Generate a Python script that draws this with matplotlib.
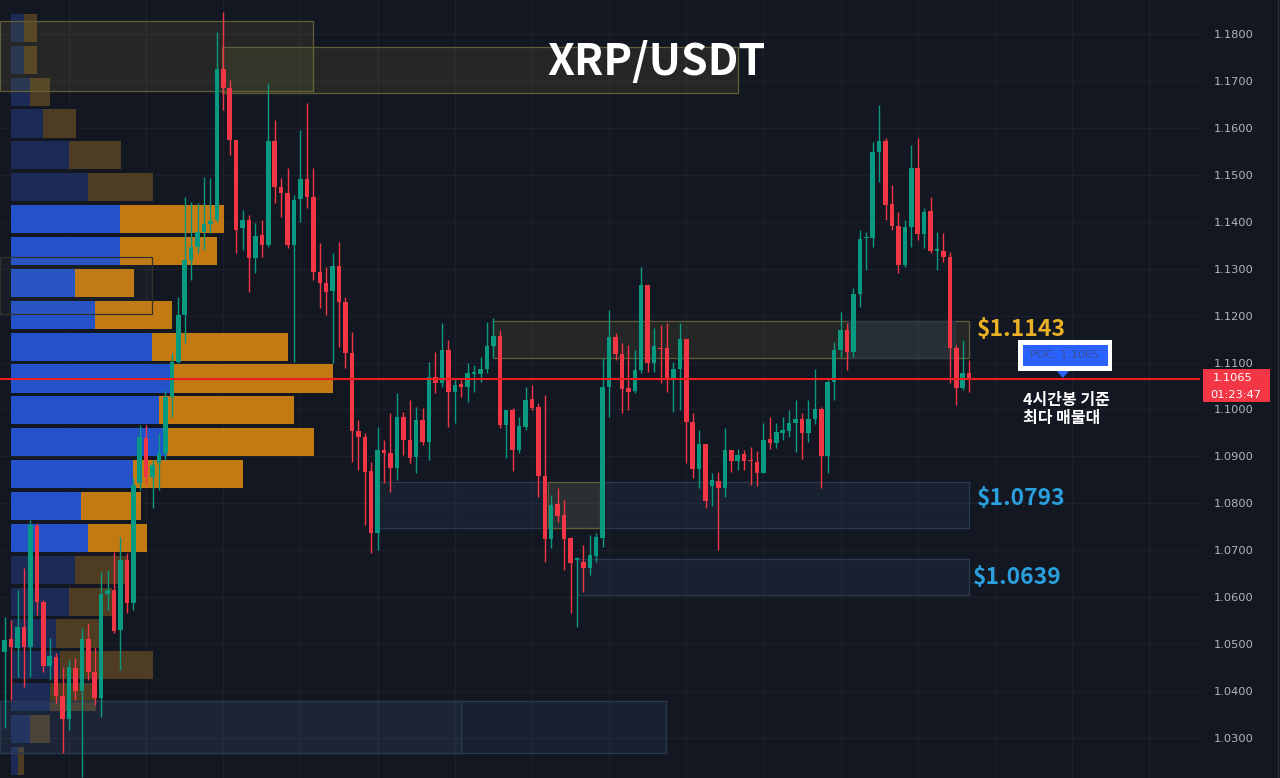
import matplotlib.pyplot as plt
import numpy as np
from matplotlib.patches import Rectangle, Polygon
from matplotlib.lines import Line2D
from matplotlib.ticker import FormatStrFormatter
from matplotlib.transforms import blended_transform_factory

BG = '#131722'
UP = '#089981'
DOWN = '#f23645'

# XRP/USDT 4h candles
opens = [1.0484, 1.0511, 1.0492, 1.0537, 1.0494, 1.0752, 1.0590, 1.0454, 1.0473, 1.0390,
         1.0341, 1.0450, 1.0401, 1.0511, 1.0441, 1.0386, 1.0607, 1.0616, 1.0531, 1.0680,
         1.0588, 1.0844, 1.0939, 1.0856, 1.0886, 1.0908, 1.1027, 1.1101, 1.1201, 1.1319,
         1.1346, 1.1378, 1.1395, 1.1404, 1.1725, 1.1685, 1.1574, 1.1387, 1.1404, 1.1323,
         1.1372, 1.1351, 1.1572, 1.1474, 1.1461, 1.1351, 1.1449, 1.1491, 1.1453, 1.1293,
         1.1270, 1.1253, 1.1306, 1.1229, 1.1121, 1.0954, 1.0942, 1.0869, 1.0737, 1.0914,
         1.0908, 1.0876, 1.0984, 1.0935, 1.0899, 1.0978, 1.0931, 1.1069, 1.1057, 1.1127,
         1.1037, 1.1054, 1.1048, 1.1076, 1.1076, 1.1086, 1.1135, 1.1157, 1.0967, 1.0999,
         1.0914, 1.0963, 1.1023, 1.1006, 1.0859, 1.0724, 1.0799, 1.0775, 1.0726, 1.0680,
         1.0675, 1.0663, 1.0688, 1.0726, 1.1048, 1.1155, 1.1118, 1.1046, 1.1040, 1.1084,
         1.1265, 1.1099, 1.1131, 1.1131, 1.1063, 1.1086, 1.1150, 1.0974, 1.0873, 1.0927,
         1.0837, 1.0848, 1.0833, 1.0914, 1.0890, 1.0905, 1.0893, 1.0888, 1.0865, 1.0937,
         1.0929, 1.0950, 1.0954, 1.0971, 1.0980, 1.0950, 1.0980, 1.1001, 1.0901, 1.1059,
         1.1127, 1.1170, 1.1123, 1.1246, 1.1365, 1.1365, 1.1549, 1.1572, 1.1438, 1.1391,
         1.1308, 1.1389, 1.1515, 1.1374, 1.1423, 1.1338, 1.1338, 1.1325, 1.1131, 1.1046,
         1.1078]
highs = [1.0558, 1.0552, 1.0616, 1.0663, 1.0765, 1.0758, 1.0594, 1.0513, 1.0482, 1.0452,
         1.0467, 1.0471, 1.0535, 1.0545, 1.0494, 1.0654, 1.0658, 1.0697, 1.0729, 1.0695,
         1.0854, 1.0967, 1.0967, 1.0893, 1.0950, 1.1042, 1.1121, 1.1240, 1.1453, 1.1442,
         1.1440, 1.1495, 1.1493, 1.1804, 1.1847, 1.1702, 1.1574, 1.1425, 1.1414, 1.1397,
         1.1404, 1.1696, 1.1617, 1.1493, 1.1515, 1.1457, 1.1596, 1.1653, 1.1515, 1.1355,
         1.1304, 1.1334, 1.1357, 1.1240, 1.1165, 1.0978, 1.0950, 1.0888, 1.0963, 1.0935,
         1.0993, 1.1035, 1.0995, 1.1020, 1.1006, 1.1003, 1.1101, 1.1123, 1.1184, 1.1148,
         1.1067, 1.1063, 1.1099, 1.1095, 1.1112, 1.1187, 1.1195, 1.1170, 1.0999, 1.1003,
         1.0984, 1.1048, 1.1052, 1.1014, 1.1031, 1.0818, 1.0833, 1.0807, 1.0729, 1.0686,
         1.0712, 1.0733, 1.0737, 1.1110, 1.1212, 1.1163, 1.1142, 1.1138, 1.1127, 1.1304,
         1.1265, 1.1174, 1.1180, 1.1184, 1.1101, 1.1184, 1.1150, 1.0993, 1.0957, 1.0927,
         1.0865, 1.0867, 1.0961, 1.0914, 1.0916, 1.0914, 1.0920, 1.0912, 1.0971, 1.0984,
         1.0971, 1.0984, 1.0999, 1.1020, 1.0993, 1.1020, 1.1086, 1.1006, 1.1063, 1.1144,
         1.1208, 1.1184, 1.1259, 1.1383, 1.1378, 1.1570, 1.1649, 1.1578, 1.1478, 1.1421,
         1.1404, 1.1564, 1.1578, 1.1429, 1.1453, 1.1378, 1.1376, 1.1336, 1.1138, 1.1148,
         1.1106]
lows = [1.0322, 1.0381, 1.0430, 1.0409, 1.0430, 1.0562, 1.0441, 1.0424, 1.0375, 1.0269,
        1.0318, 1.0381, 1.0217, 1.0424, 1.0371, 1.0345, 1.0573, 1.0524, 1.0445, 1.0567,
        1.0573, 1.0829, 1.0839, 1.0790, 1.0829, 1.0893, 1.0984, 1.1099, 1.1142, 1.1276,
        1.1334, 1.1340, 1.1376, 1.1400, 1.1638, 1.1542, 1.1334, 1.1340, 1.1250, 1.1291,
        1.1325, 1.1346, 1.1440, 1.1410, 1.1344, 1.1101, 1.1400, 1.1429, 1.1276, 1.1216,
        1.1201, 1.1099, 1.1133, 1.1089, 1.0888, 1.0871, 1.0754, 1.0695, 1.0701, 1.0844,
        1.0824, 1.0850, 1.0903, 1.0886, 1.0865, 1.0925, 1.0893, 1.1035, 1.1048, 1.0963,
        1.0971, 1.1027, 1.1016, 1.1037, 1.1059, 1.1078, 1.1110, 1.0961, 1.0897, 1.0869,
        1.0908, 1.0957, 1.0999, 1.0814, 1.0675, 1.0705, 1.0761, 1.0658, 1.0567, 1.0537,
        1.0611, 1.0648, 1.0675, 1.0707, 1.0984, 1.1106, 1.0993, 1.0999, 1.1035, 1.1078,
        1.1080, 1.1080, 1.1057, 1.1037, 1.0995, 1.0999, 1.0886, 1.0854, 1.0833, 1.0790,
        1.0795, 1.0701, 1.0814, 1.0867, 1.0871, 1.0871, 1.0839, 1.0837, 1.0865, 1.0916,
        1.0918, 1.0935, 1.0942, 1.0910, 1.0895, 1.0931, 1.0969, 1.0833, 1.0865, 1.1020,
        1.1112, 1.1084, 1.1112, 1.1219, 1.1297, 1.1346, 1.1485, 1.1404, 1.1383, 1.1291,
        1.1304, 1.1346, 1.1361, 1.1344, 1.1334, 1.1297, 1.1314, 1.1057, 1.1010, 1.1042,
        1.1037]
closes = [1.0509, 1.0494, 1.0537, 1.0494, 1.0754, 1.0590, 1.0454, 1.0475, 1.0390, 1.0341,
          1.0452, 1.0401, 1.0511, 1.0441, 1.0386, 1.0607, 1.0616, 1.0528, 1.0680, 1.0588,
          1.0839, 1.0942, 1.0856, 1.0882, 1.0908, 1.1027, 1.1101, 1.1201, 1.1319, 1.1346,
          1.1378, 1.1395, 1.1402, 1.1725, 1.1685, 1.1574, 1.1383, 1.1404, 1.1323, 1.1370,
          1.1351, 1.1572, 1.1474, 1.1461, 1.1351, 1.1446, 1.1491, 1.1453, 1.1293, 1.1270,
          1.1250, 1.1306, 1.1229, 1.1121, 1.0954, 1.0942, 1.0867, 1.0737, 1.0914, 1.0908,
          1.0876, 1.0984, 1.0935, 1.0897, 1.0978, 1.0931, 1.1069, 1.1057, 1.1127, 1.1037,
          1.1052, 1.1048, 1.1078, 1.1080, 1.1086, 1.1135, 1.1157, 1.0967, 1.0999, 1.0914,
          1.0965, 1.1020, 1.1003, 1.0859, 1.0724, 1.0797, 1.0773, 1.0724, 1.0673, 1.0684,
          1.0663, 1.0690, 1.0729, 1.1048, 1.1155, 1.1118, 1.1044, 1.1037, 1.1084, 1.1265,
          1.1099, 1.1135, 1.1129, 1.1063, 1.1086, 1.1150, 1.0974, 1.0873, 1.0927, 1.0805,
          1.0850, 1.0833, 1.0914, 1.0890, 1.0903, 1.0890, 1.0890, 1.0865, 1.0935, 1.0929,
          1.0952, 1.0957, 1.0971, 1.0980, 1.0950, 1.0980, 1.1001, 1.0901, 1.1059, 1.1127,
          1.1170, 1.1123, 1.1246, 1.1363, 1.1368, 1.1549, 1.1572, 1.1436, 1.1391, 1.1308,
          1.1389, 1.1515, 1.1374, 1.1421, 1.1338, 1.1340, 1.1325, 1.1131, 1.1046, 1.1078,
          1.1065]

# volume profile rows, top to bottom (up volume / down volume, relative units)
vp_up = [13, 13, 19, 32, 58, 77, 109, 109, 64, 84, 141, 162,
         148, 156, 122, 70, 77, 64, 58, 45, 49, 39, 19, 7]
vp_down = [13, 13, 20, 33, 52, 65, 104, 97, 59, 77, 136, 160,
           135, 147, 110, 60, 59, 53, 43, 44, 93, 46, 20, 6]
value_area = (6, 16)  # first and last row inside the value area

poc_price = 1.1065
levels = [1.1143, 1.0793, 1.0639]
countdown = '01:23:47'

o, h, l, c = map(np.array, (opens, highs, lows, closes))
idx = np.arange(len(c))


def fx(px):
    return px / 1280


def fy(py):
    return 1 - py / 778


fig = plt.figure(figsize=(12.8, 7.78), dpi=100, facecolor=BG)
ax = fig.add_axes([0, 0, 1200 / 1280, 1])
ax.set_facecolor(BG)
for s in ax.spines.values():
    s.set_visible(False)

# grid + price scale
ax.set_yticks(np.arange(1.03, 1.1801, 0.01))
ax.set_xticks(np.arange(10, 186, 12))
ax.grid(color='#1c202b', lw=0.9)
ax.set_axisbelow(True)
ax.yaxis.tick_right()
ax.yaxis.set_major_formatter(FormatStrFormatter('%.4f'))
ax.tick_params(axis='x', length=0, labelbottom=False)
ax.tick_params(axis='y', length=0, pad=10, labelsize=8.2, labelcolor='#b2b5be')

# volume profile (fixed pixel width on the left)
vp_tr = blended_transform_factory(ax.transAxes, ax.transData)
edges = np.linspace(max(highs), min(lows), len(vp_up) + 1)
centers = (edges[:-1] + edges[1:]) / 2
row_h = abs(edges[1] - edges[0]) * 0.88
unit = 1 / 1200
x0 = 11 * unit
for i, (u, d) in enumerate(zip(vp_up, vp_down)):
    inside = value_area[0] <= i <= value_area[1]
    cu = '#2452c8' if inside else '#1b2b55'
    cd = '#c47a12' if inside else '#4e3d22'
    ax.barh(centers[i], u * unit, left=x0, height=row_h, color=cu,
            transform=vp_tr, zorder=1, lw=0)
    ax.barh(centers[i], d * unit, left=x0 + u * unit, height=row_h, color=cd,
            transform=vp_tr, zorder=1, lw=0)

# supply / demand zones
yel_face = (0.62, 0.58, 0.24, 0.13)
yel_edge = '#625f38'
blu_face = (0.25, 0.37, 0.55, 0.15)
blu_edge = '#2b394f'
zones = [
    (-0.73, 48.0, 1.1679, 1.1828, yel_face, yel_edge),
    (33.8, 114.0, 1.1674, 1.1772, yel_face, yel_edge),
    (-0.73, 22.9, 1.1203, 1.1325, (0.5, 0.5, 0.35, 0.06), '#33332c'),
    (75.9, 150.0, 1.1110, 1.1189, yel_face, yel_edge),
    (131.2, 147.8, 1.1110, 1.1189, blu_face, blu_edge),
    (58.1, 150.0, 1.0748, 1.0846, blu_face, blu_edge),
    (84.5, 92.6, 1.0748, 1.0846, yel_face, yel_edge),
    (89.0, 150.0, 1.0605, 1.0682, blu_face, blu_edge),
    (-0.73, 102.8, 1.0268, 1.0379, blu_face, blu_edge),
    (-0.73, 71.0, 1.0268, 1.0379, (0.3, 0.4, 0.55, 0.07), blu_edge),
]
for x_a, x_b, y_a, y_b, fc, ec in zones:
    ax.add_patch(Rectangle((x_a, y_a), x_b - x_a, y_b - y_a, facecolor=fc,
                           edgecolor=ec, lw=0.9, zorder=2))

# candles
col = np.where(c >= o, UP, DOWN)
ax.vlines(idx, l, h, colors=col, lw=1, zorder=3)
body_lo = np.minimum(o, c)
body_h = np.maximum(np.abs(c - o), 0.0003)
ax.bar(idx, body_h, bottom=body_lo, width=0.7, color=col, lw=0, zorder=4)

# POC line
ax.axhline(poc_price, color='#f01c22', lw=1.5, zorder=6)

ax.set_xlim(-0.73, 185.9)
ax.set_ylim(1.02148, 1.18724)

# labels
kr = ['Noto Sans CJK KR', 'DejaVu Sans']
fig.text(fx(656), fy(62), 'XRP/USDT', ha='center', va='center', color='white',
         fontsize=31, fontweight='bold', family=kr)
ax.text(151.2, 1.1170, '$%.4f' % levels[0], color='#eab126', fontsize=16.5,
        fontweight='bold', family=kr, va='center', ha='left', zorder=7)
ax.text(151.2, 1.0810, '$%.4f' % levels[1], color='#2a9fdc', fontsize=16.5,
        fontweight='bold', family=kr, va='center', ha='left', zorder=7)
ax.text(150.6, 1.0643, '$%.4f' % levels[2], color='#2a9fdc', fontsize=16.5,
        fontweight='bold', family=kr, va='center', ha='left', zorder=7)

# POC callout
fig.add_artist(Rectangle((fx(1018), fy(371)), 94 / 1280, 31 / 778,
                         transform=fig.transFigure, facecolor='white',
                         edgecolor='none', zorder=5))
fig.add_artist(Rectangle((fx(1023), fy(366)), 85 / 1280, 21 / 778,
                         transform=fig.transFigure, facecolor='#2962ff',
                         edgecolor='none', zorder=6))
fig.text(fx(1065), fy(355.5), 'POC: %.4f' % poc_price, ha='center', va='center',
         color='#3d4f8e', fontsize=8, zorder=7)
fig.add_artist(Polygon([(fx(1057), fy(371)), (fx(1069), fy(371)), (fx(1063), fy(378))],
                       closed=True, transform=fig.transFigure, facecolor='#2962ff',
                       edgecolor='none', zorder=6))
fig.text(fx(1023), fy(400), '4시간봉 기준', ha='left', va='center', color='white',
         fontsize=11.5, fontweight='bold', family=kr)
fig.text(fx(1023), fy(418), '최다 매물대', ha='left', va='center', color='white',
         fontsize=11.5, fontweight='bold', family=kr)

# last price tag on the price scale
fig.add_artist(Rectangle((fx(1203), fy(402)), 67 / 1280, 33 / 778,
                         transform=fig.transFigure, facecolor='#f23645',
                         edgecolor='none', zorder=5))
fig.text(fx(1213), fy(378), '%.4f' % closes[-1], ha='left', va='center',
         color='white', fontsize=8.2, zorder=6)
fig.text(fx(1210), fy(395), countdown, ha='left', va='center',
         color='white', fontsize=8.2, zorder=6)
fig.add_artist(Line2D([fx(1278), fx(1278)], [0, 1], transform=fig.transFigure,
                      color='#2a2e39', lw=1))

fig.savefig('out.png', dpi=100, facecolor=BG)
